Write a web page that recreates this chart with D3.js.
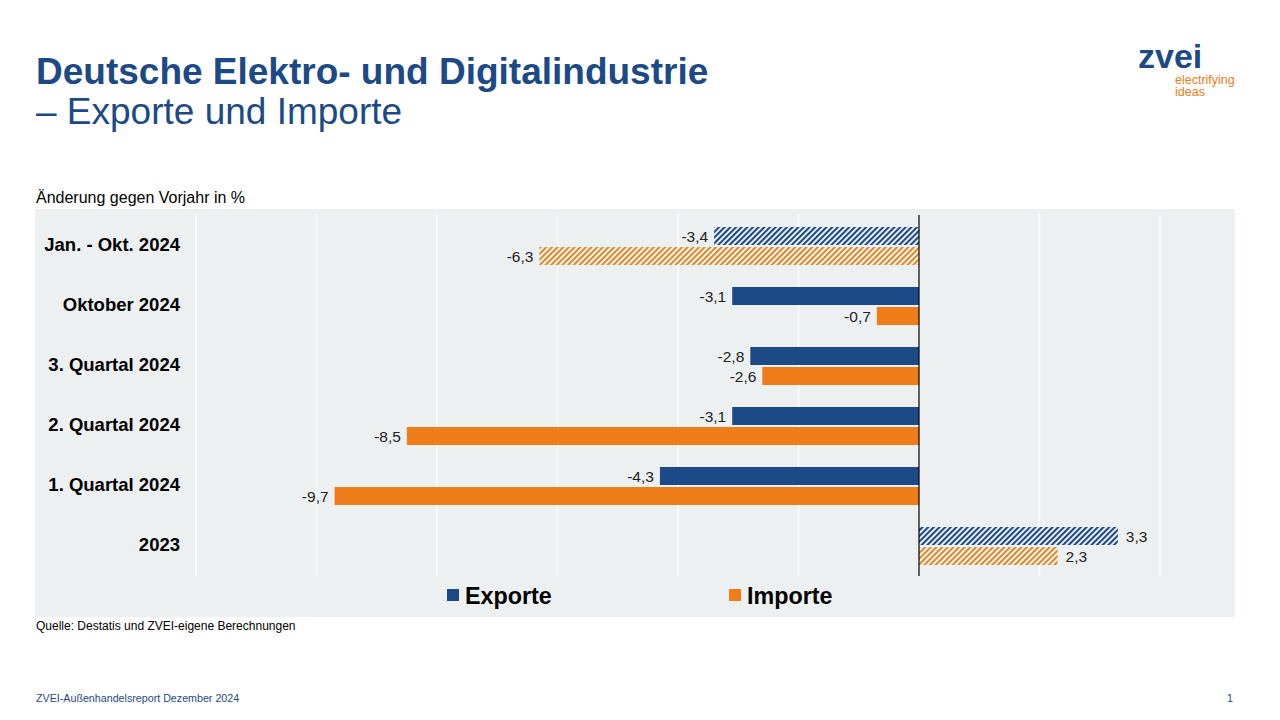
<!DOCTYPE html>
<html><head><meta charset="utf-8">
<script src="https://cdn.jsdelivr.net/npm/d3@7"></script>
<style>body{margin:0;background:#fff;font-family:Arial,"Liberation Sans",sans-serif;}</style>
</head><body>
<script>
var categories = ["Jan. - Okt. 2024","Oktober 2024","3. Quartal 2024","2. Quartal 2024","1. Quartal 2024","2023"];
var exporte = [-3.4,-3.1,-2.8,-3.1,-4.3,3.3];
var importe = [-6.3,-0.7,-2.6,-8.5,-9.7,2.3];
var hatched = [true,false,false,false,false,true];
var gridTicks = [-12,-10,-8,-6,-4,-2,0,2,4];

var blue = "#1c4a87", orange = "#ee7d1a";
var svg = d3.select("body").append("svg").attr("width",1280).attr("height",720);
var font = "Arial, 'Liberation Sans', sans-serif";

var defs = svg.append("defs");
[["hb",blue],["ho","#d98a2e"]].forEach(function(p){
  var pat = defs.append("pattern").attr("id",p[0]).attr("patternUnits","userSpaceOnUse")
    .attr("width",4).attr("height",4).attr("patternTransform","rotate(45)");
  pat.append("rect").attr("width",4).attr("height",4).attr("fill","#fff");
  pat.append("rect").attr("width",2.2).attr("height",4).attr("fill",p[1]);
});

svg.append("text").attr("x",36).attr("y",84).attr("font-family",font).attr("font-size",37)
  .attr("font-weight","bold").attr("fill","#1c4a87").text("Deutsche Elektro- und Digitalindustrie");
svg.append("text").attr("x",36).attr("y",124).attr("font-family",font).attr("font-size",37)
  .attr("fill","#1c4a87").text("– Exporte und Importe");
svg.append("text").attr("x",1138).attr("y",68).attr("font-family",font).attr("font-size",34)
  .attr("font-weight","bold").attr("fill","#1c4a87").text("zvei");
svg.append("text").attr("x",1175).attr("y",84).attr("font-family",font).attr("font-size",12.5)
  .attr("fill",orange).text("electrifying");
svg.append("text").attr("x",1175).attr("y",96).attr("font-family",font).attr("font-size",12.5)
  .attr("fill",orange).text("ideas");

svg.append("text").attr("x",36).attr("y",203).attr("font-family",font).attr("font-size",16)
  .attr("fill","#000").text("Änderung gegen Vorjahr in %");
svg.append("rect").attr("x",35).attr("y",209).attr("width",1200).attr("height",408).attr("fill","#edf0f1");

var x = d3.scaleLinear().domain([-12,4]).range([196,1160]);
var y = d3.scaleBand().domain(categories).range([215,575]);

svg.selectAll(".grid").data(gridTicks.filter(function(d){return d!==0;})).enter().append("line")
  .attr("x1",function(d){return x(d);}).attr("x2",function(d){return x(d);})
  .attr("y1",215).attr("y2",576).attr("stroke","#fff").attr("stroke-width",1.3);

var bh = 18;
function bars(vals, off, color, pid){
  svg.selectAll(".b"+pid).data(vals).enter().append("rect")
    .attr("x",function(d){return x(Math.min(0,d));})
    .attr("y",function(d,i){return y(categories[i])+off;})
    .attr("width",function(d){return Math.abs(x(d)-x(0));})
    .attr("height",bh)
    .attr("fill",function(d,i){return hatched[i] ? "url(#"+pid+")" : color;});
  svg.selectAll(".l"+pid).data(vals).enter().append("text")
    .attr("x",function(d){return d<0 ? x(d)-6 : x(d)+8;})
    .attr("y",function(d,i){return y(categories[i])+off+bh/2+1;})
    .attr("dy","0.3em").attr("text-anchor",function(d){return d<0?"end":"start";})
    .attr("font-family",font).attr("font-size",15.5).attr("fill","#222")
    .text(function(d){return d3.format(".1f")(d).replace("−","-").replace(".",",");});
}
bars(exporte, 12, blue, "hb");
bars(importe, 32, orange, "ho");

svg.append("line").attr("x1",x(0)).attr("x2",x(0)).attr("y1",215).attr("y2",576)
  .attr("stroke","#000").attr("stroke-width",1.2);

svg.selectAll(".cat").data(categories).enter().append("text")
  .attr("x",180).attr("y",function(d){return y(d)+y.bandwidth()/2;}).attr("dy","0.35em")
  .attr("text-anchor","end").attr("font-family",font).attr("font-size",18.5).attr("font-weight","bold")
  .attr("fill","#000").text(function(d){return d;});

[["Exporte",blue,447],["Importe",orange,729]].forEach(function(l){
  svg.append("rect").attr("x",l[2]).attr("y",589).attr("width",12).attr("height",12).attr("fill",l[1]);
  svg.append("text").attr("x",l[2]+18).attr("y",604).attr("font-family",font).attr("font-size",23.3)
    .attr("font-weight","bold").attr("fill","#000").text(l[0]);
});

svg.append("text").attr("x",36).attr("y",630).attr("font-family",font).attr("font-size",12)
  .attr("fill","#000").text("Quelle: Destatis und ZVEI-eigene Berechnungen");
svg.append("text").attr("x",36).attr("y",702).attr("font-family",font).attr("font-size",10.7)
  .attr("fill","#1c4a87").text("ZVEI-Außenhandelsreport Dezember 2024");
svg.append("text").attr("x",1227).attr("y",702).attr("font-family",font).attr("font-size",10.7)
  .attr("fill","#1c4a87").text("1");
</script>
</body></html>
